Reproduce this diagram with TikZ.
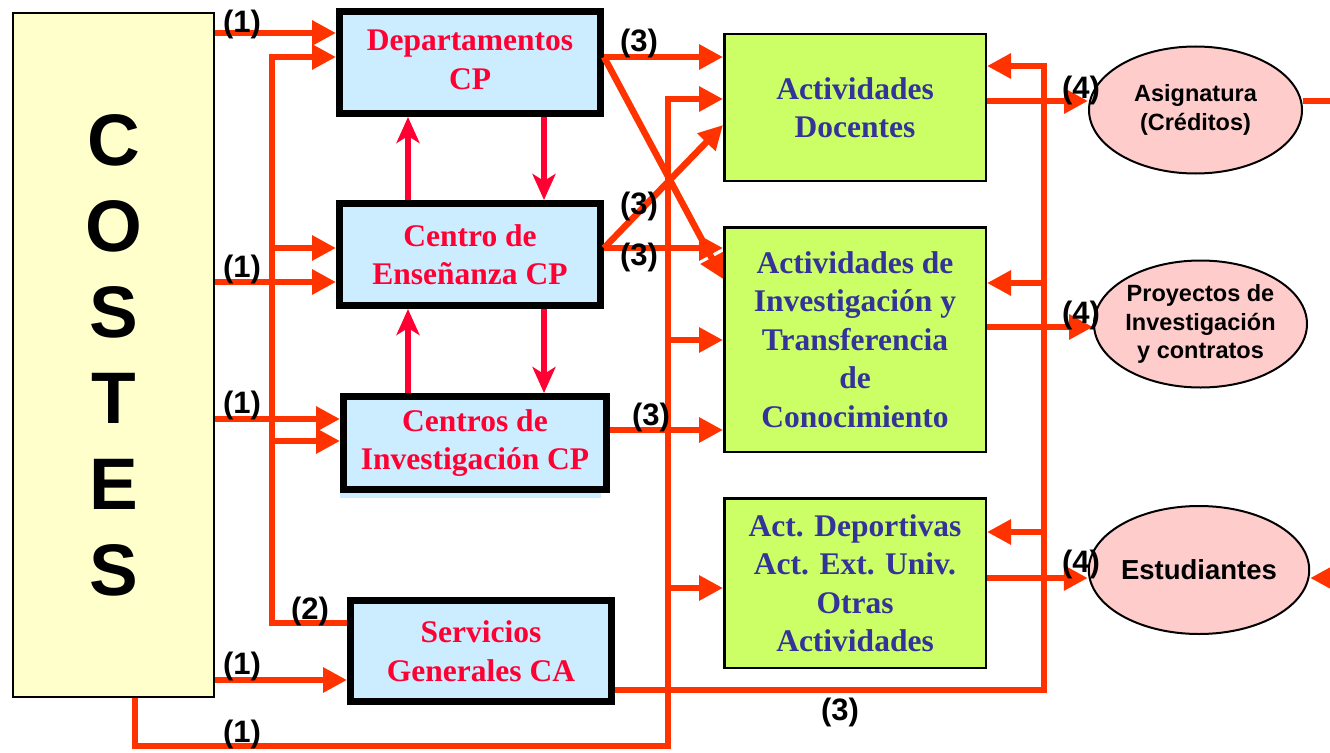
\documentclass[tikz,border=0pt]{standalone}
\usepackage{fontspec}
\setmainfont{Liberation Serif}
\newfontfamily\arialfont{Liberation Sans}
\usetikzlibrary{arrows.meta,shapes.geometric}
\definecolor{cpblue}{HTML}{CCECFF}
\definecolor{cptext}{HTML}{FF0033}
\definecolor{actgreen}{HTML}{CCFF66}
\definecolor{acttext}{HTML}{333399}
\definecolor{pinkfill}{HTML}{FFCCCC}
\definecolor{costesfill}{HTML}{FFFFCC}
\definecolor{flowred}{HTML}{FF3300}
\begin{document}
\begin{tikzpicture}[x=1pt,y=-1pt,
  cpbox/.style={draw=black,line width=7pt,fill=cpblue,text=cptext,font=\bfseries\fontsize{31.5}{38.5}\selectfont,align=center,inner sep=0pt,minimum width=261pt,minimum height=102pt},
  actbox/.style={draw=black,line width=2.5pt,fill=actgreen,text=acttext,font=\bfseries\fontsize{31.5}{38.5}\selectfont,align=center,inner sep=0pt,minimum width=261.5pt},
  outell/.style={ellipse,draw=black,line width=2pt,fill=pinkfill,font=\arialfont\bfseries\fontsize{23.5}{28.5}\selectfont,align=center,inner sep=0pt,minimum width=213pt,minimum height=127pt},
  flow/.style={draw=flowred,line width=6.5pt,-{Triangle[length=24pt,width=24pt]}},
  flowline/.style={draw=flowred,line width=6.5pt},
  pinkarrow/.style={draw=cptext,line width=6pt,-{Stealth[length=26pt,width=23pt,inset=7pt]}},
  lab/.style={font=\arialfont\bfseries\fontsize{31}{31}\selectfont,inner sep=0pt,text=black}
]
\useasboundingbox (0,0) rectangle (1330,752);
\clip (0,0) rectangle (1330,752);
\fill[white] (0,0) rectangle (1330,752);

% COSTES
\node[draw=black,line width=2pt,fill=costesfill,minimum width=201pt,minimum height=684pt,inner sep=0pt,
      font=\arialfont\bfseries\fontsize{73}{86}\selectfont,align=center] (costes) at (113.5,355) {C\\O\\S\\T\\E\\S};

% CP boxes
\fill[cpblue] (340,488) rectangle (601,498);
\node[cpbox] (dept) at (470,62.5) {\raisebox{3pt}{\begin{tabular}{@{}c@{}}Departamentos\\CP\end{tabular}}};
\node[cpbox] (ens) at (470,254.5) {Centro de\\Enseñanza CP};
\node[cpbox,minimum width=263pt,minimum height=93pt] (cinv) at (475,443) {Centros de\\Investigación CP};
\node[cpbox,minimum width=261pt,minimum height=101pt] (serv) at (481,651) {Servicios\\Generales CA};

% activity boxes
\node[actbox,minimum height=146.5pt] (doc) at (855,107.5) {Actividades\\Docentes};
\node[actbox,minimum height=224.5pt] (inv) at (855,339.5) {Actividades de\\Investigación y\\Transferencia\\de\\Conocimiento};
\node[actbox,minimum height=169.5pt] (dep) at (855,583) {Act. Deportivas\\Act. Ext. Univ.\\Otras\\Actividades};

% outputs
\node[outell] (asig) at (1195.5,110) {Asignatura\\(Créditos)};
\node[outell] (proy) at (1200.5,324) {Proyectos de\\Investigación\\y contratos};
\node[outell,minimum width=214pt,minimum height=128pt,font=\arialfont\bfseries\fontsize{27.5}{30}\selectfont] (est) at (1199,570) {Estudiantes};

% bus coordinates
\coordinate (busL) at (272,57);
\coordinate (busM) at (668,746);
\coordinate (busR) at (1044,66);
\coordinate (outA) at (1340,101);
\coordinate (inB) at (1345,578);

% COSTES -> CP boxes
\draw[flow] (costes.east |- 0,33) -- (dept.west |- 0,33);
\draw[flow] (costes.east |- 0,282) -- (ens.west |- 0,282);
\draw[flow] (costes.east |- 0,419) -- (cinv.west |- 0,419);
\draw[flow] (costes.east |- 0,680) -- (serv.west |- 0,680);
\draw[flow] (costes.south -| 135,0) |- (busM) |- (doc.west |- 0,99);
\draw[flow] (busM |- 0,340) -- (inv.west |- 0,340);
\draw[flow] (busM |- 0,588) -- (dep.west |- 0,588);

% Servicios Generales (2) -> CP boxes
\draw[flow] (serv.west |- 0,623) -| (busL) -- (dept.west |- busL);
\draw[flow] (busL |- 0,248) -- (ens.west |- 0,248);
\draw[flow] (busL |- 0,441) -- (cinv.west |- 0,441);

% CP boxes -> activities (3)
\draw[flow] (dept.east |- 0,57) -- (doc.west |- 0,57);
\draw[flow] (dept.east |- 0,57) -- (inv.west |- 0,279);
\draw[flow] (ens.east |- 0,248) -- (inv.west |- 0,248);
\draw[flow] (ens.east |- 0,248) -- (doc.west |- 0,125);
\draw[flow] (cinv.east |- 0,430) -- (inv.west |- 0,430);

% Servicios Generales (3) -> activities
\draw[flow] (serv.east |- 0,690) -| (busR) -- (doc.east |- busR);
\draw[flow] (busR |- 0,283) -- (inv.east |- 0,283);
\draw[flow] (busR |- 0,532) -- (dep.east |- 0,532);

% activities -> outputs (4)
\draw[flow] (doc.east |- 0,101) -- (asig.west |- 0,101);
\draw[flow] (inv.east |- 0,327) -- (proy.west |- 0,327);
\draw[flow] (dep.east |- 0,578) -- (est.west |- 0,578);
\draw[flowline] (asig.east |- outA) -- (outA);
\draw[flow] (inB) -- (est.east |- inB);

% exchanges between CP boxes
\draw[pinkarrow] (ens.north -| 408,0) -- (dept.south -| 408,0);
\draw[pinkarrow] (dept.south -| 544,0) -- (ens.north -| 544,0);
\draw[pinkarrow] (cinv.north -| 408,0) -- (ens.south -| 408,0);
\draw[pinkarrow] (ens.south -| 544,0) -- (cinv.north -| 544,0);

% labels
\node[lab] (l1a) at (242,24) {(1)};
\node[lab] (l1b) at (242,269) {(1)};
\node[lab] (l1c) at (242,405) {(1)};
\node[lab] (l2) at (310,611) {(2)};
\node[lab] (l1d) at (242,666) {(1)};
\node[lab] (l1e) at (242,734) {(1)};
\node[lab] (l3a) at (639,43) {(3)};
\node[lab] (l3b) at (639,206) {(3)};
\node[lab] (l3c) at (639,257) {(3)};
\node[lab] (l3d) at (651,417) {(3)};
\node[lab] (l3e) at (840,712) {(3)};
\node[lab] (l4a) at (1081,90) {(4)};
\node[lab] (l4b) at (1081,315) {(4)};
\node[lab] (l4c) at (1081,564) {(4)};
\end{tikzpicture}
\end{document}
